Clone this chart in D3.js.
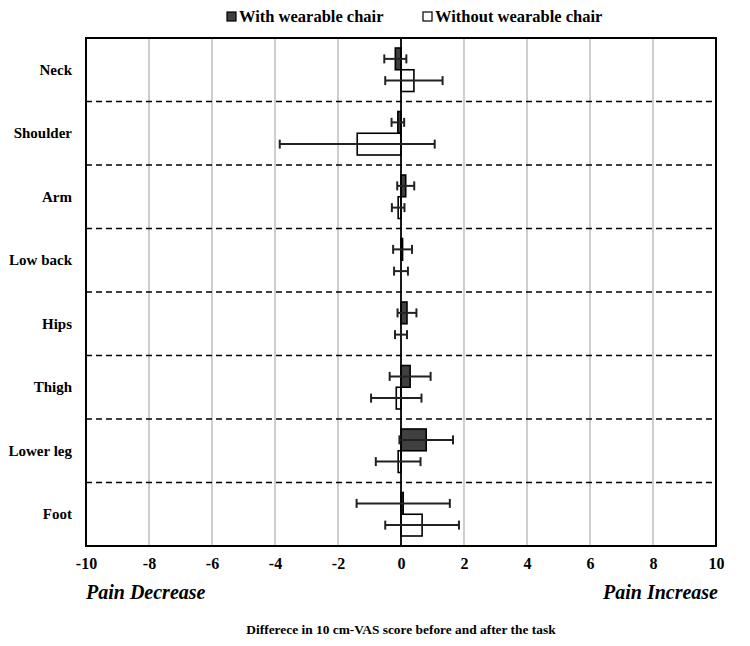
<!DOCTYPE html>
<html><head><meta charset="utf-8">
<script src="https://cdn.jsdelivr.net/npm/d3@7"></script>
<style>body{margin:0;background:#fff}svg{display:block}</style>
</head><body>
<svg id="c" width="750" height="646"></svg>
<script>
const categories = ["Neck","Shoulder","Arm","Low back","Hips","Thigh","Lower leg","Foot"];
const seriesNames = ["With wearable chair","Without wearable chair"];
const withMean = [-0.18,-0.10,0.15,0.05,0.19,0.29,0.80,0.07];
const withErr  = [0.35,0.20,0.27,0.30,0.30,0.65,0.85,1.48];
const withoutMean = [0.41,-1.39,-0.09,0.0,0.0,-0.15,-0.09,0.67];
const withoutErr  = [0.91,2.46,0.20,0.22,0.19,0.80,0.71,1.17];
const xTicks = [-10,-8,-6,-4,-2,0,2,4,6,8,10];

const svg = d3.select("#c");
const m = {l:86, r:716, t:38, b:546};
const font = "'Liberation Serif','Times New Roman',serif";
const x = d3.scaleLinear().domain([-10,10]).range([m.l,m.r]);
const y = d3.scaleBand().domain(categories).range([m.t,m.b]);
const sub = d3.scaleBand().domain(seriesNames).range([0,y.bandwidth()]).paddingOuter(0.46).paddingInner(0);
const colors = {"With wearable chair":"#404040","Without wearable chair":"#ffffff"};

// grid
svg.append("g").selectAll("line").data(xTicks.filter(d=>d!==0&&d!==-10&&d!==10)).join("line")
  .attr("x1",d=>x(d)).attr("x2",d=>x(d)).attr("y1",m.t).attr("y2",m.b)
  .attr("stroke","#b3b3b3").attr("stroke-width",1.3);

// dashed separators
svg.append("g").selectAll("line").data(categories.slice(1)).join("line")
  .attr("x1",m.l).attr("x2",m.r).attr("y1",d=>y(d)).attr("y2",d=>y(d))
  .attr("stroke","#000").attr("stroke-width",1.5).attr("stroke-dasharray","6,4");

const data = [];
categories.forEach((c,i)=>{
  data.push({cat:c, s:seriesNames[0], v:withMean[i], e:withErr[i]});
  data.push({cat:c, s:seriesNames[1], v:withoutMean[i], e:withoutErr[i]});
});

// bars
svg.append("g").selectAll("rect").data(data).join("rect")
  .attr("x",d=>Math.min(x(0),x(d.v))).attr("width",d=>Math.abs(x(d.v)-x(0)))
  .attr("y",d=>y(d.cat)+sub(d.s)).attr("height",sub.bandwidth())
  .attr("fill",d=>colors[d.s]).attr("stroke","#000").attr("stroke-width",1.6);

// zero line
svg.append("line").attr("x1",x(0)).attr("x2",x(0)).attr("y1",m.t).attr("y2",m.b)
  .attr("stroke","#000").attr("stroke-width",1.8);

// error bars
const eg = svg.append("g").attr("stroke","#222").attr("stroke-width",2);
data.forEach(d=>{
  const cy = y(d.cat)+sub(d.s)+sub.bandwidth()/2;
  eg.append("line").attr("x1",x(d.v-d.e)).attr("x2",x(d.v+d.e)).attr("y1",cy).attr("y2",cy);
  [d.v-d.e,d.v+d.e].forEach(v=>eg.append("line").attr("x1",x(v)).attr("x2",x(v)).attr("y1",cy-4.5).attr("y2",cy+4.5));
});

// frame
svg.append("rect").attr("x",m.l).attr("y",m.t).attr("width",m.r-m.l).attr("height",m.b-m.t)
  .attr("fill","none").attr("stroke","#000").attr("stroke-width",2);

// x axis
const xa = svg.append("g").attr("transform",`translate(0,${m.b})`)
  .call(d3.axisBottom(x).tickValues(xTicks).tickFormat(d=>String(d)).tickSize(0).tickPadding(12));
xa.select(".domain").remove();
xa.selectAll("text").attr("font-family",font).attr("font-weight","bold").attr("font-size",16).attr("fill","#000");

// y axis
const ya = svg.append("g").attr("transform",`translate(${m.l},0)`)
  .call(d3.axisLeft(y).tickSize(0).tickPadding(14));
ya.select(".domain").remove();
ya.selectAll("text").attr("font-family",font).attr("font-weight","bold").attr("font-size",15).attr("fill","#000");

// pain labels
svg.append("text").attr("x",m.l).attr("y",599).text("Pain Decrease")
  .attr("font-family",font).attr("font-weight","bold").attr("font-style","italic").attr("font-size",20);
svg.append("text").attr("x",m.r+2).attr("y",599).attr("text-anchor","end").text("Pain Increase")
  .attr("font-family",font).attr("font-weight","bold").attr("font-style","italic").attr("font-size",20);

// title
svg.append("text").attr("x",x(0)).attr("y",634).attr("text-anchor","middle")
  .text("Differece in 10 cm-VAS score before and after the task")
  .attr("font-family",font).attr("font-weight","bold").attr("font-size",13.4);

// legend
const lg = svg.append("g");
const lx = [227,423];
seriesNames.forEach((s,i)=>{
  lg.append("rect").attr("x",lx[i]).attr("y",12).attr("width",9).attr("height",9)
    .attr("fill",colors[s]).attr("stroke","#000").attr("stroke-width",1.2);
  lg.append("text").attr("x",lx[i]+12).attr("y",22).text(s)
    .attr("font-family",font).attr("font-weight","bold").attr("font-size",16.5);
});
</script>
</body></html>
